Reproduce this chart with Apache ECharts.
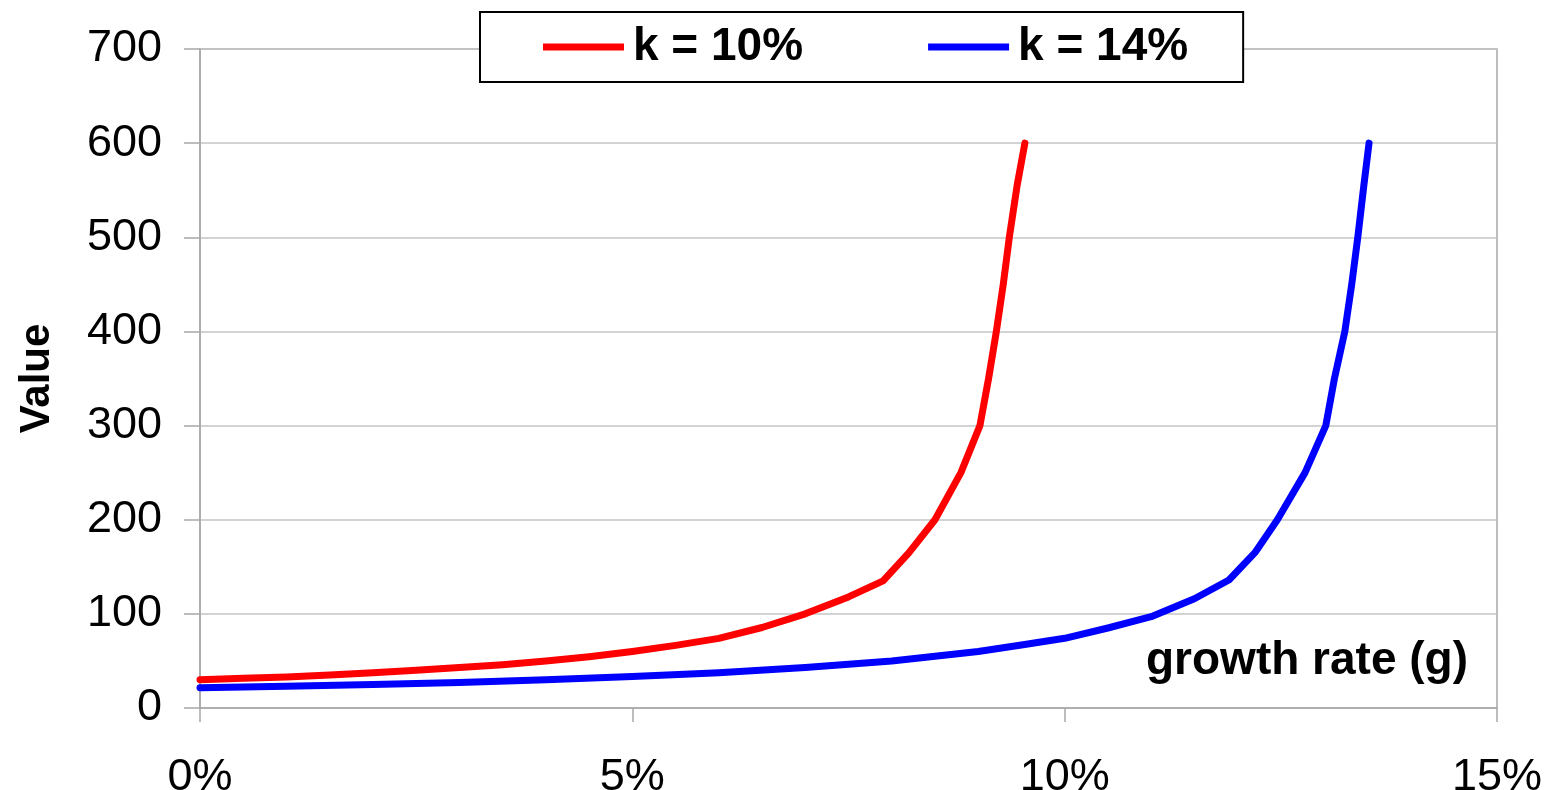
<!DOCTYPE html>
<html>
<head>
<meta charset="utf-8">
<title>Value vs growth rate</title>
<script src="https://cdn.jsdelivr.net/npm/echarts@6/dist/echarts.min.js"></script>
<style>
  html, body { margin: 0; padding: 0; background: #ffffff; }
  #chart { width: 1550px; height: 790px; }
</style>
</head>
<body>
<div id="chart"></div>
<script>
// Growth rate g (%) and resulting value for discount rate k = 10%
const gRed = [0, 0.5, 1, 1.5, 2, 2.5, 3, 3.5, 4, 4.5, 5, 5.5, 6, 6.5, 7, 7.5, 7.9, 8.2, 8.5, 8.8, 9.02, 9.12, 9.21, 9.29, 9.36, 9.45, 9.54];
const valRed = [30, 31.5, 33, 35, 37.5, 40, 43, 46, 50, 54.5, 60, 66.5, 74, 85.5, 100, 118, 135, 165, 200, 250, 300, 350, 400, 450, 500, 555, 600];

// Growth rate g (%) and resulting value for discount rate k = 14%
const gBlue = [0, 1, 2, 3, 4, 5, 6, 7, 8, 9, 9.5, 10, 10.5, 11, 11.5, 11.9, 12.2, 12.46, 12.78, 13.02, 13.12, 13.24, 13.32, 13.39, 13.46, 13.52];
const valBlue = [21.5, 23, 25, 27, 30, 33.5, 37.5, 43, 50, 60, 67, 74, 85, 97, 116, 136, 165, 200, 250, 300, 350, 400, 450, 500, 555, 600];

const seriesNames = ['k = 10%', 'k = 14%'];
const xTicks = [0, 5, 10, 15];
const yTicks = [0, 100, 200, 300, 400, 500, 600, 700];

const zip = (xs, ys) => xs.map((x, i) => [x, ys[i]]);

const font = 'Arial, "Liberation Sans", Helvetica, sans-serif';
const gridColor = '#c4c4c4';
const axisColor = '#a8a8a8';

const chart = echarts.init(document.getElementById('chart'), null, { renderer: 'canvas' });

chart.setOption({
  animation: false,
  backgroundColor: '#ffffff',
  grid: {
    left: 200, right: 53, top: 49, bottom: 82,
    outerBoundsMode: 'none',
    containLabel: false,
    show: true, borderColor: axisColor, borderWidth: 1.5,
    backgroundColor: 'transparent'
  },
  legend: {
    data: seriesNames,
    left: 480, top: 12,
    padding: [12, 55, 12, 63],
    backgroundColor: '#ffffff',
    borderColor: '#000000',
    borderWidth: 2,
    borderRadius: 0,
    itemWidth: 81, itemHeight: 7,
    itemGap: 125,
    icon: 'rect',
    textStyle: {
      fontFamily: font, fontSize: 46, fontWeight: 'bold', color: '#000000',
      padding: [0, 0, 0, 4]
    }
  },
  xAxis: {
    type: 'value',
    min: xTicks[0], max: xTicks[xTicks.length - 1], interval: 5,
    axisLine: { show: true, lineStyle: { color: axisColor, width: 1.5 } },
    axisTick: { show: true, length: 14, lineStyle: { color: axisColor, width: 1.5 } },
    splitLine: { show: false },
    axisLabel: {
      formatter: '{value}%', margin: 47,
      fontFamily: font, fontSize: 45, color: '#000000'
    }
  },
  yAxis: {
    type: 'value',
    min: yTicks[0], max: yTicks[yTicks.length - 1], interval: 100,
    name: 'Value',
    nameLocation: 'middle',
    nameGap: 142,
    nameRotate: 90,
    nameTextStyle: { fontFamily: font, fontSize: 42, fontWeight: 'bold', color: '#000000' },
    axisLine: { show: true, lineStyle: { color: axisColor, width: 1.5 } },
    axisTick: { show: true, length: 16, lineStyle: { color: axisColor, width: 1.5 } },
    splitLine: { show: true, lineStyle: { color: gridColor, width: 1.5 } },
    axisLabel: { margin: 38, fontFamily: font, fontSize: 45, color: '#000000' }
  },
  graphic: [{
    type: 'text',
    right: 82, top: 638,
    z: 10,
    style: {
      text: 'growth rate (g)',
      font: 'bold 46px ' + font,
      fill: '#000000'
    }
  }],
  series: [
    {
      name: seriesNames[0],
      type: 'line',
      data: zip(gRed, valRed),
      showSymbol: false, symbol: 'none',
      smooth: false,
      lineStyle: { color: '#ff0000', width: 7, join: 'round', cap: 'round' },
      itemStyle: { color: '#ff0000' },
      z: 3
    },
    {
      name: seriesNames[1],
      type: 'line',
      data: zip(gBlue, valBlue),
      showSymbol: false, symbol: 'none',
      smooth: false,
      lineStyle: { color: '#0000ff', width: 7, join: 'round', cap: 'round' },
      itemStyle: { color: '#0000ff' },
      z: 4
    }
  ]
});
</script>
</body>
</html>
